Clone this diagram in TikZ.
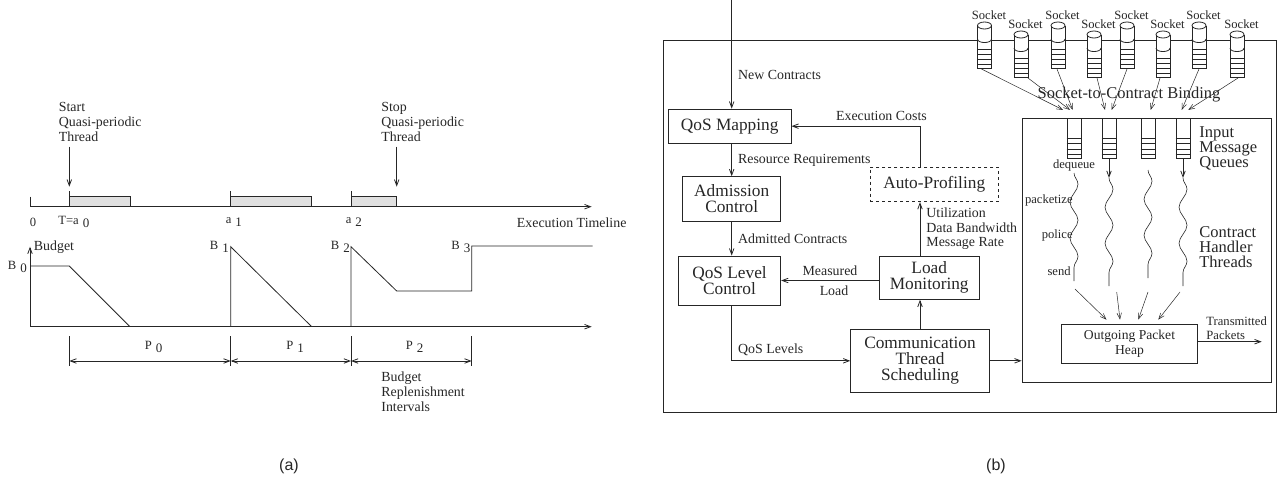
\documentclass[tikz,border=0pt]{standalone}
\usepackage{fontspec}
\setmainfont{Liberation Serif}
\setsansfont{Liberation Sans}
\usetikzlibrary{arrows.meta,calc,positioning,decorations.pathmorphing}

\tikzset{
  arr/.style={-{Straight Barb[length=6pt,width=4.5pt]}},
  dimarr/.style={{Straight Barb[length=6pt,width=4.5pt]}-{Straight Barb[length=6pt,width=4.5pt]}},
  blk/.style={draw, align=center, inner sep=0pt, font=\fontsize{17.3}{16}\selectfont},
  lbl/.style={inner sep=0pt, font=\fontsize{13.9}{14.7}\selectfont},
  small/.style={inner sep=0pt, font=\fontsize{12.6}{13.4}\selectfont},
  big/.style={inner sep=0pt, align=left, font=\fontsize{16.5}{15}\selectfont},
  queue/.style={draw, fill=white, minimum width=14pt, minimum height=40pt, inner sep=0pt},
  thread/.style={decorate, decoration={snake, segment length=36pt, amplitude=4pt}},
}
% label with spaced, lowered index
\newcommand{\idx}[2]{#1\hspace{4pt}\raisebox{-3.5pt}{\fontsize{13}{13}\selectfont #2}}

\begin{document}
\begin{tikzpicture}[x=1pt,y=-1pt,line width=0.8pt,color=black!85]
\useasboundingbox (0,0) rectangle (1277,482);

%%%%%%%%%%%%%%%% (a) quasi-periodic budget %%%%%%%%%%%%%%%%
% execution timeline
\draw[arr] (30,206.7) -- (591.7,206.7);
\draw (30,196.7) -- (30,206.7);
\filldraw[fill=black!12] (69.3,196.7) rectangle (130,206.7);
\filldraw[fill=black!12] (230.7,196.7) rectangle (311.7,206.7);
\filldraw[fill=black!12] (351,196.7) rectangle (396.7,206.7);
\foreach \x in {69.3,230.7,351}
  \draw (\x,191) -- (\x,206.7);
\draw[arr] (69.3,146.7) -- (69.3,186.7);
\draw[arr] (396.7,146.7) -- (396.7,186.7);
\node[lbl, align=left, anchor=west] at (58.5,122) {Start\\Quasi-periodic\\Thread};
\node[lbl, align=left, anchor=west] at (381,122) {Stop\\Quasi-periodic\\Thread};
\node[small] at (33,222) {0};
\node[small, anchor=west] at (58,222) {\idx{T=a}{0}};
\node[small, anchor=west] at (225.5,222) {\idx{a}{1}};
\node[small, anchor=west] at (345.5,222) {\idx{a}{2}};
\node[lbl, anchor=west] at (516.5,223) {Execution Timeline};

% budget curve
\draw[arr] (30,326.7) -- (30,246.7);
\node[lbl, anchor=west] at (33.5,247) {Budget};
\draw[arr] (30,326.7) -- (591.7,326.7);
\draw (30,266) -- (69.3,266) -- (130,326.7);
\draw (230.7,326.7) -- (230.7,246.7) -- (311.7,326.7);
\draw (351,326.7) -- (351,246.7) -- (396.7,291) -- (471.7,291) -- (471.7,246) -- (592.7,246);
\node[small, anchor=west] at (7.5,267) {\idx{B}{0}};
\node[small, anchor=west] at (209.5,247) {\idx{B}{1}};
\node[small, anchor=west] at (330.5,247) {\idx{B}{2}};
\node[small, anchor=west] at (451,247) {\idx{B}{3}};

% replenishment intervals
\foreach \x in {69.3,230.7,351,471.7}
  \draw (\x,336) -- (\x,366);
\draw[dimarr] (69.3,361) -- (230.7,361);
\draw[dimarr] (230.7,361) -- (351,361);
\draw[dimarr] (351,361) -- (471.7,361);
\node[small, anchor=west] at (144.5,347) {\idx{P}{0}};
\node[small, anchor=west] at (286,347) {\idx{P}{1}};
\node[small, anchor=west] at (405.5,347) {\idx{P}{2}};
\node[lbl, align=left, anchor=west] at (381,391.7) {Budget\\Replenishment\\Intervals};

\node[font=\sffamily\fontsize{16}{16}\selectfont] at (289,466) {(a)};

%%%%%%%%%%%%%%%% (b) middleware architecture %%%%%%%%%%%%%%%%
\draw (663.3,40) rectangle (1276,412.7);

% sockets on the network line
\foreach \i/\x/\t in {1/984.5/22,2/1021/31,3/1058/22,4/1094/31,5/1127/22,6/1163/31,7/1199/22,8/1237/31}{
  \fill[white] (\x-7,\t+3.5) rectangle (\x+7,\t+46);
  \draw (\x-7,\t+3.5) -- (\x-7,\t+46) -- (\x+7,\t+46) -- (\x+7,\t+3.5);
  \draw (\x,\t+3.5) ellipse [x radius=7pt, y radius=3.5pt];
  \draw (\x-7,\t+17) .. controls (\x-7,\t+21.7) and (\x+7,\t+21.7) .. (\x+7,\t+17);
  \foreach \d in {27,32,37,42}
    \draw (\x-7,\t+\d) -- (\x+7,\t+\d);
  \node[small, anchor=south] (sl\i) at (\x+4.5,\t-1.5) {Socket};
  \coordinate (s\i) at (\x,\t+47);
}

% blocks
\coordinate (nc) at (731.7,0);
\node[blk, minimum width=122.7pt, minimum height=34.3pt] (map) at (729.7,126.2) {QoS Mapping};
\node[blk, minimum width=98pt, minimum height=44.3pt] (adm) at (731.7,198.8) {Admission\\Control};
\node[blk, minimum width=102.4pt, minimum height=49pt] (qlc) at (729.5,280.5) {QoS Level\\Control};
\node[blk, dashed, minimum width=128.3pt, minimum height=34.7pt] (prof) at (934.2,184.3) {Auto-Profiling};
\node[blk, minimum width=99.7pt, minimum height=43.3pt] (load) at (929.2,277.7) {Load\\Monitoring};
\node[blk, minimum width=138.6pt, minimum height=63pt] (comm) at (920,360.8) {Communication\\Thread\\Scheduling};
\node[draw, minimum width=249.7pt, minimum height=264.4pt] (inner) at (1146.9,250.5) {};
\node[blk, font=\fontsize{13.6}{15}\selectfont, minimum width=135.6pt, minimum height=39.3pt] (heap) at (1129.5,343.7) {Outgoing Packet\\Heap};

% control flow
\draw[arr] (nc) -- (nc |- map.north) node[lbl, pos=0.69, right=6pt] {New Contracts};
\draw[arr] (map.south -| nc) -- (adm.north -| nc) node[lbl, midway, right=6pt] {Resource Requirements};
\draw[arr] (adm.south -| nc) -- (qlc.north -| nc) node[lbl, midway, right=6pt] {Admitted Contracts};
\draw[arr] (qlc.south -| nc) |- (comm.west) node[lbl, pos=0.5, anchor=south west, shift={(6pt,5pt)}] {QoS Levels};
\draw[arr] (comm.north) -- (load.south -| comm.north);
\draw[arr] (load.west |- qlc.east) -- (qlc.east)
  node[lbl, midway, above=4pt] {Measured} node[lbl, midway, below=5pt, xshift=4pt] {Load};
\draw[arr] (load.north -| comm.north) -- (prof.south -| comm.north)
  node[lbl, align=left, midway, right=6pt] {Utilization\\Data Bandwidth\\Message Rate};
\draw[arr] (prof.north -| comm.north) |- (map.east) node[lbl, pos=0.65, above=5pt] {Execution Costs};
\draw[arr] (comm.east) -- (comm.east -| inner.west);

% input queues
\foreach \i/\x in {1/1074,2/1109,3/1148,4/1183}{
  \node[queue] (q\i) at (\x,138.3) {};
  \foreach \d in {20,25,31,36}
    \draw ($(q\i.north west)+(0,\d)$) -- ($(q\i.north east)+(0,\d)$);
}
\node[lbl, font=\fontsize{16.5}{16}\selectfont] (bind) at (1129,95) {Socket-to-Contract Binding};
\foreach \s/\sx/\q/\qx in {1/-3/1/-11,2/7/1/-4,3/-1/1/-1.3,4/3/2/-4,5/0/2/2.7,6/-3/3/2.7,7/0/4/-1.3,8/1/4/5.3}
  \draw[arr, line width=0.5pt] ($(s\s)+(\sx,0)$) -- ($(q\q.north)+(\qx,-8)$);
\node[big, anchor=west] at (1199,148) {Input\\Message\\Queues};
\node[big, anchor=west] at (1199,246.7) {Contract\\Handler\\Threads};

% contract handler threads
\node[small, below=0.5pt of q1] (deq) {dequeue};
\coordinate (w1) at (1074,173);  \coordinate (t1) at (1074,281);
\coordinate (w2) at (1109,178);  \coordinate (t2) at (1109,286);
\coordinate (w3) at (1148,170);  \coordinate (t3) at (1148,278);
\coordinate (w4) at (1183,178);  \coordinate (t4) at (1183,286);
\draw[arr] (q2.south) -- (w2);
\draw[arr] (q4.south) -- (w4);
\foreach \i in {1,...,4}
  \draw[thread, line width=0.6pt] (w\i) -- (t\i);
\node[small, anchor=east] at (1073,200) {packetize};
\node[small, anchor=east] at (1073,235.7) {police};
\node[small, anchor=east] at (1071,271) {send};
\draw[arr, line width=0.5pt] ($(t1)+(1,8)$) -- ($(heap.north)+(-23,-4)$);
\draw[arr, line width=0.5pt] ($(t2)+(7.7,6)$) -- ($(heap.north)+(-9.5,-4)$);
\draw[arr, line width=0.5pt] ($(t3)+(0,14)$) -- ($(heap.north)+(8.8,-4)$);
\draw[arr, line width=0.5pt] ($(t4)+(-3,6)$) -- ($(heap.north)+(28.8,-4)$);

% output
\coordinate (tx) at (1261.7,341.7);
\draw[arr] (heap.east |- tx) -- (tx);
\node[small, align=left, anchor=west] at (1206,328) {Transmitted\\Packets};

\node[font=\sffamily\fontsize{16}{16}\selectfont] at (996,466) {(b)};
\end{tikzpicture}
\end{document}
